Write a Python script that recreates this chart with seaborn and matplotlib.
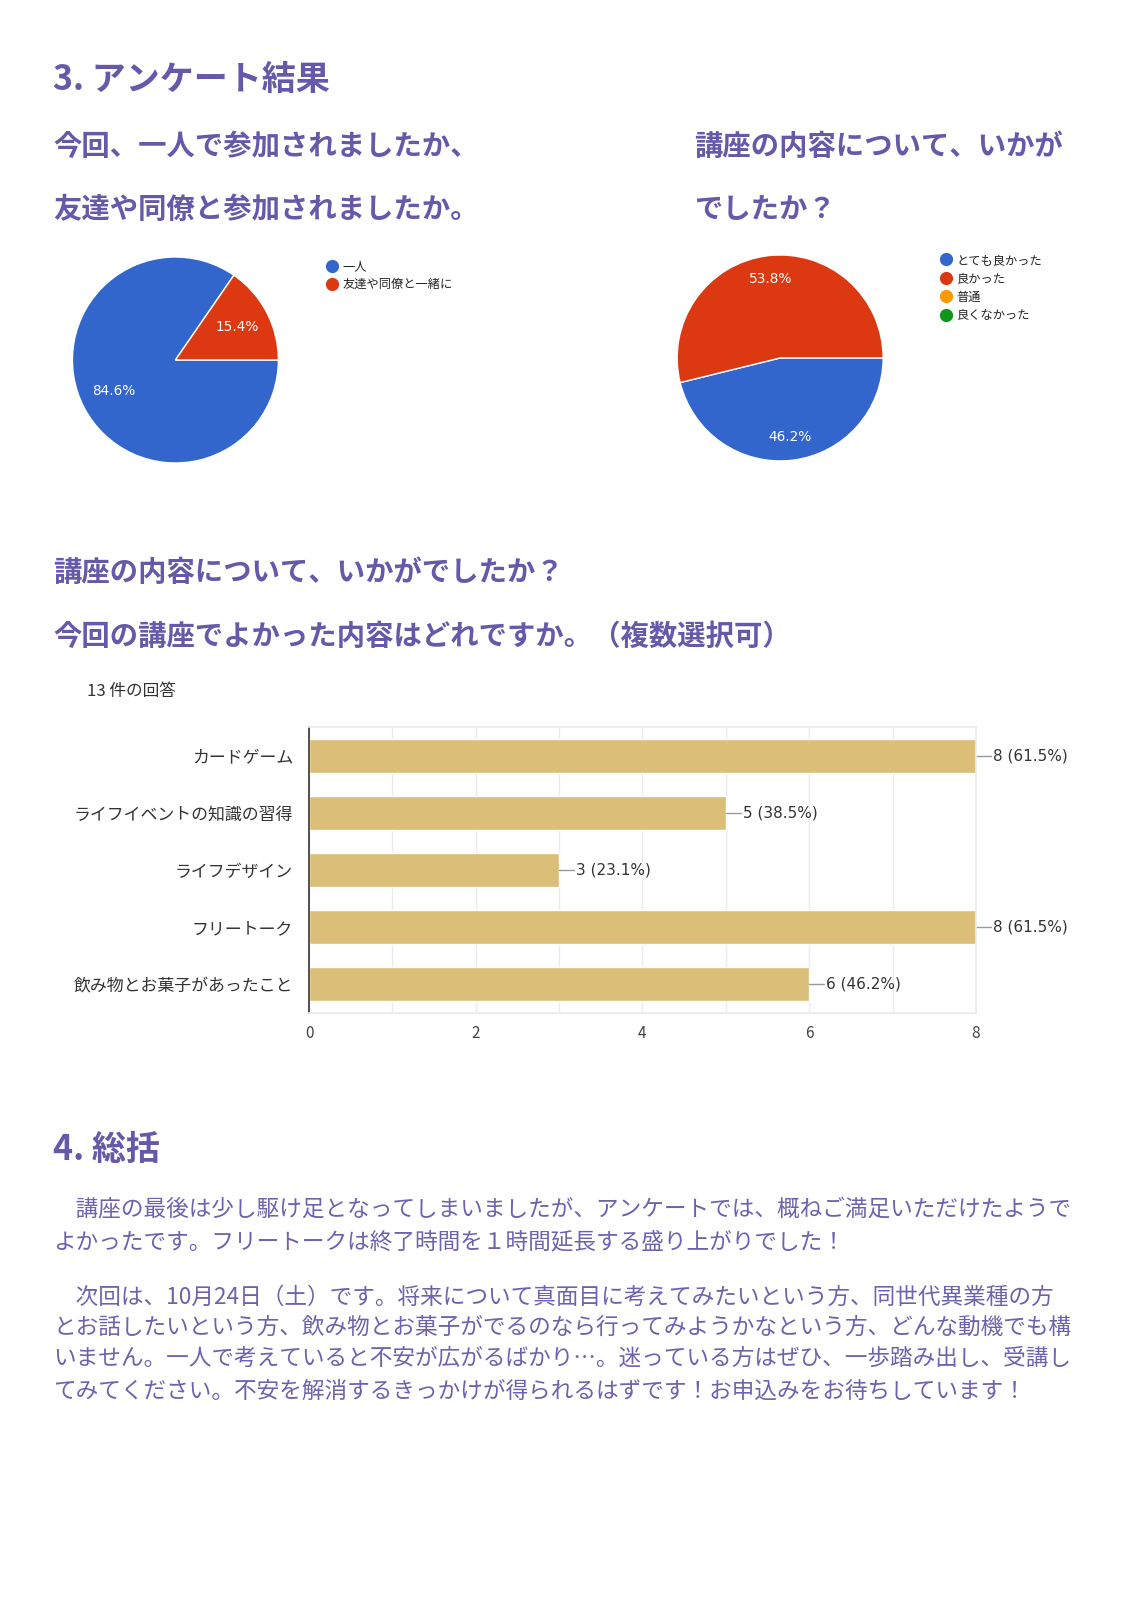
import seaborn as sns
import matplotlib.pyplot as plt
from matplotlib.lines import Line2D

# ---- data ----
pie1_labels = ["一人", "友達や同僚と一緒に"]
pie1_counts = [11, 2]

pie2_labels = ["とても良かった", "良かった", "普通", "良くなかった"]
pie2_counts = [6, 7, 0, 0]

bar_labels = ["カードゲーム", "ライフイベントの知識の習得", "ライフデザイン",
              "フリートーク", "飲み物とお菓子があったこと"]
bar_counts = [8, 5, 3, 8, 6]
n_answers = 13
x_ticks = [0, 2, 4, 6, 8]

para1 = ["　講座の最後は少し駆け足となってしまいましたが、アンケートでは、概ねご満足いただけたようで",
         "よかったです。フリートークは終了時間を１時間延長する盛り上がりでした！"]
para2 = ["　次回は、10月24日（土）です。将来について真面目に考えてみたいという方、同世代異業種の方",
         "とお話したいという方、飲み物とお菓子がでるのなら行ってみようかなという方、どんな動機でも構",
         "いません。一人で考えていると不安が広がるばかり…。迷っている方はぜひ、一歩踏み出し、受講し",
         "てみてください。不安を解消するきっかけが得られるはずです！お申込みをお待ちしています！"]

google = ["#3366cc", "#dc3912", "#ff9900", "#109618"]
bar_color = "#dbbe78"
head_color = "#6559aa"
text_color = "#6c63ae"

sns.set_theme(style="white")
plt.rcParams['font.family'] = ['Noto Sans CJK JP', 'DejaVu Sans']

W, H = 1132, 1600
S = 1132 / 1110  # layout measured on a slightly shrunk view
fig = plt.figure(figsize=(W / 100, H / 100), dpi=100)


def fx(x):
    return x * S / W


def fy(y):
    return 1 - y * S / H


def ty(y):
    # text baseline correction
    return fy(y + 3)


def box(l, t, r, b):
    return [fx(l), fy(b), (r - l) * S / W, (b - t) * S / H]


HEAD = 24.5
SUB = 20.4

# ---- headings ----
fig.text(fx(52), ty(75), "3. アンケート結果", fontsize=HEAD, fontweight="bold",
         color=head_color, va="center")
fig.text(fx(52), ty(141), "今回、一人で参加されましたか、", fontsize=SUB,
         fontweight="bold", color=head_color, va="center")
fig.text(fx(52), ty(203), "友達や同僚と参加されましたか。", fontsize=SUB,
         fontweight="bold", color=head_color, va="center")
fig.text(fx(681), ty(141), "講座の内容について、いかが", fontsize=SUB,
         fontweight="bold", color=head_color, va="center")
fig.text(fx(681), ty(203), "でしたか？", fontsize=SUB,
         fontweight="bold", color=head_color, va="center")
fig.text(fx(52), ty(559), "講座の内容について、いかがでしたか？", fontsize=SUB,
         fontweight="bold", color=head_color, va="center")
fig.text(fx(52), ty(621), "今回の講座でよかった内容はどれですか。（複数選択可）",
         fontsize=SUB, fontweight="bold", color=head_color, va="center")
fig.text(fx(85), ty(675), f"{n_answers} 件の回答", fontsize=12,
         color="#333333", va="center")


# ---- pies ----
def draw_pie(rect, counts, labels, pctdist, legend_xy):
    ax = fig.add_axes(rect)
    vals = [c for c in counts if c > 0]
    cols = [google[i] for i, c in enumerate(counts) if c > 0]
    wedges, _, autotexts = ax.pie(
        vals, colors=cols, startangle=0, counterclock=False,
        autopct=lambda p: f"{p:.1f}%", pctdistance=pctdist,
        wedgeprops=dict(edgecolor="white", linewidth=1),
        textprops=dict(color="white", fontsize=9.8, family="DejaVu Sans"))
    ax.set_xlim(-1.01, 1.01)
    ax.set_ylim(-1.01, 1.01)
    ax.set_aspect("equal")
    handles = [Line2D([], [], marker="o", linestyle="", markersize=8.5,
                      markerfacecolor=google[i], markeredgecolor=google[i])
               for i in range(len(labels))]
    fig.legend(handles, labels, loc="upper left",
               bbox_to_anchor=(fx(legend_xy[0]), fy(legend_xy[1])),
               frameon=False, fontsize=8.8, handletextpad=0.2,
               labelspacing=0.45, handlelength=1.2, borderaxespad=0,
               labelcolor="#222222")
    return ax, autotexts


ax1, at1 = draw_pie(box(70, 251, 274, 455), pie1_counts, pie1_labels, 0.68,
                    (314, 250))
# Google places the large slice label towards the lower left
at1[0].set_position((-0.6, -0.3))

ax2, at2 = draw_pie(box(663, 249, 867, 453), pie2_counts, pie2_labels, 0.77,
                    (916, 244))

# ---- bar chart ----
axb = fig.add_axes(box(303, 713, 957, 993))
sns.barplot(x=bar_counts, y=bar_labels, orient="h", color=bar_color,
            width=0.6, saturation=1, ax=axb)
axb.set_xlim(0, 8)
axb.set_ylim(len(bar_labels) - 0.5, -0.5)
axb.set_xticks(x_ticks)
axb.set_xticks(range(0, 9), minor=True)
axb.grid(True, axis="x", which="both", color="#ebebeb", linewidth=1)
axb.set_axisbelow(True)
for s in ["top", "right", "bottom"]:
    axb.spines[s].set_color("#ebebeb")
axb.spines["left"].set_color("#333333")
axb.spines["left"].set_linewidth(1.2)
axb.tick_params(axis="x", length=0, labelsize=11, labelcolor="#444444", pad=9)
axb.tick_params(axis="y", length=0, labelsize=12.2, labelcolor="#333333", pad=11.5)
axb.set_xlabel("")
axb.set_ylabel("")
for i, c in enumerate(bar_counts):
    axb.plot([c, c + 0.18], [i, i], color="#999999", linewidth=1, clip_on=False)
    axb.text(c + 0.2, i, f"{c} ({c / n_answers * 100:.1f}%)", va="center",
             ha="left", fontsize=11, color="#333333", family="DejaVu Sans")

# ---- summary ----
fig.text(fx(52), ty(1124), "4. 総括", fontsize=HEAD, fontweight="bold",
         color=head_color, va="center")
for line, y in zip(para1, [1183, 1215]):
    fig.text(fx(52), ty(y), line, fontsize=16.3, color=text_color, va="center")
for line, y in zip(para2, [1269, 1299, 1329, 1361]):
    fig.text(fx(52), ty(y), line, fontsize=16.3, color=text_color, va="center")

fig.savefig("out.png", dpi=100, facecolor="white")
